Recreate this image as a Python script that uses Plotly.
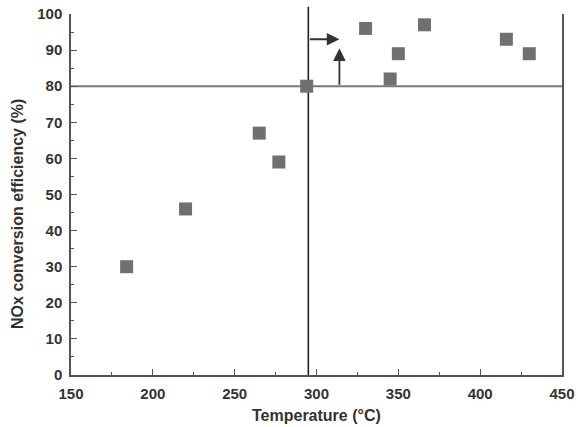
import plotly.graph_objects as go

temperature = [184, 220, 265, 277, 294, 330, 345, 350, 366, 416, 430]
efficiency = [30, 46, 67, 59, 80, 96, 82, 89, 97, 93, 89]

threshold_eff = 80
light_off_temp = 295
arrow_h = (295, 314, 93)   # x0, x1, y
arrow_v = (314, 80, 90.5)  # x, y0, y1

x_ticks = [150, 200, 250, 300, 350, 400, 450]
y_ticks = [0, 10, 20, 30, 40, 50, 60, 70, 80, 90, 100]

font_family = "Liberation Sans, Arial, sans-serif"
txt_col = "#333333"

fig = go.Figure()
fig.add_trace(go.Scatter(
    x=temperature, y=efficiency, mode="markers",
    marker=dict(symbol="square", size=13, color="#707070"),
    showlegend=False, cliponaxis=False,
))

fig.add_shape(type="line", xref="x", yref="y", x0=150, x1=450,
              y0=threshold_eff, y1=threshold_eff,
              line=dict(color="#7a7a7a", width=2), layer="below")
fig.add_shape(type="line", xref="x", yref="paper", x0=light_off_temp, x1=light_off_temp,
              y0=0, y1=1.02, line=dict(color="#222222", width=1.6), layer="below")

fig.add_annotation(x=arrow_h[1], y=arrow_h[2], ax=arrow_h[0], ay=arrow_h[2],
                   xref="x", yref="y", axref="x", ayref="y", text="",
                   showarrow=True, arrowhead=2, arrowsize=1.4, arrowwidth=1.8,
                   arrowcolor="#333333")
fig.add_annotation(x=arrow_v[0], y=arrow_v[2], ax=arrow_v[0], ay=arrow_v[1],
                   xref="x", yref="y", axref="x", ayref="y", text="",
                   showarrow=True, arrowhead=2, arrowsize=1.4, arrowwidth=1.8,
                   arrowcolor="#333333")

fig.add_annotation(text="<b>NOx conversion efficiency (%)</b>", textangle=-90,
                   xref="paper", yref="paper", x=-0.108, y=0.446,
                   xanchor="center", yanchor="middle",
                   showarrow=False, font=dict(family=font_family, size=16, color=txt_col))
fig.add_annotation(text="<b>Temperature (°C)</b>",
                   xref="paper", yref="paper", x=0.5, y=-0.112,
                   xanchor="center", yanchor="middle",
                   showarrow=False, font=dict(family=font_family, size=16, color=txt_col))

axis_common = dict(
    showgrid=False, zeroline=False, showline=True, linecolor="#555555", linewidth=1.5,
    ticks="inside", ticklen=6, tickwidth=1.3, tickcolor="#555555", automargin=False,
    tickfont=dict(family=font_family, size=15, color=txt_col),
)

fig.update_xaxes(range=[150, 450], tickvals=x_ticks,
                 ticktext=[f"<b>{v}</b>" for v in x_ticks],
                 minor=dict(ticks="inside", ticklen=3, dtick=25, tick0=150, tickcolor="#555555"),
                 ticklabelstandoff=4,
                 **axis_common)
fig.update_yaxes(range=[0, 100], tickvals=y_ticks,
                 ticktext=[f"<b>{v}</b>" for v in y_ticks],
                 minor=dict(ticks="inside", ticklen=3, dtick=5, tick0=0, tickcolor="#555555"),
                 mirror=True, ticklabelstandoff=4,
                 **axis_common)

fig.update_layout(
    width=578, height=427,
    margin=dict(l=71, r=16, t=14, b=52),
    paper_bgcolor="white", plot_bgcolor="white",
    font=dict(family=font_family, color=txt_col),
)

fig.write_html("out.html")
